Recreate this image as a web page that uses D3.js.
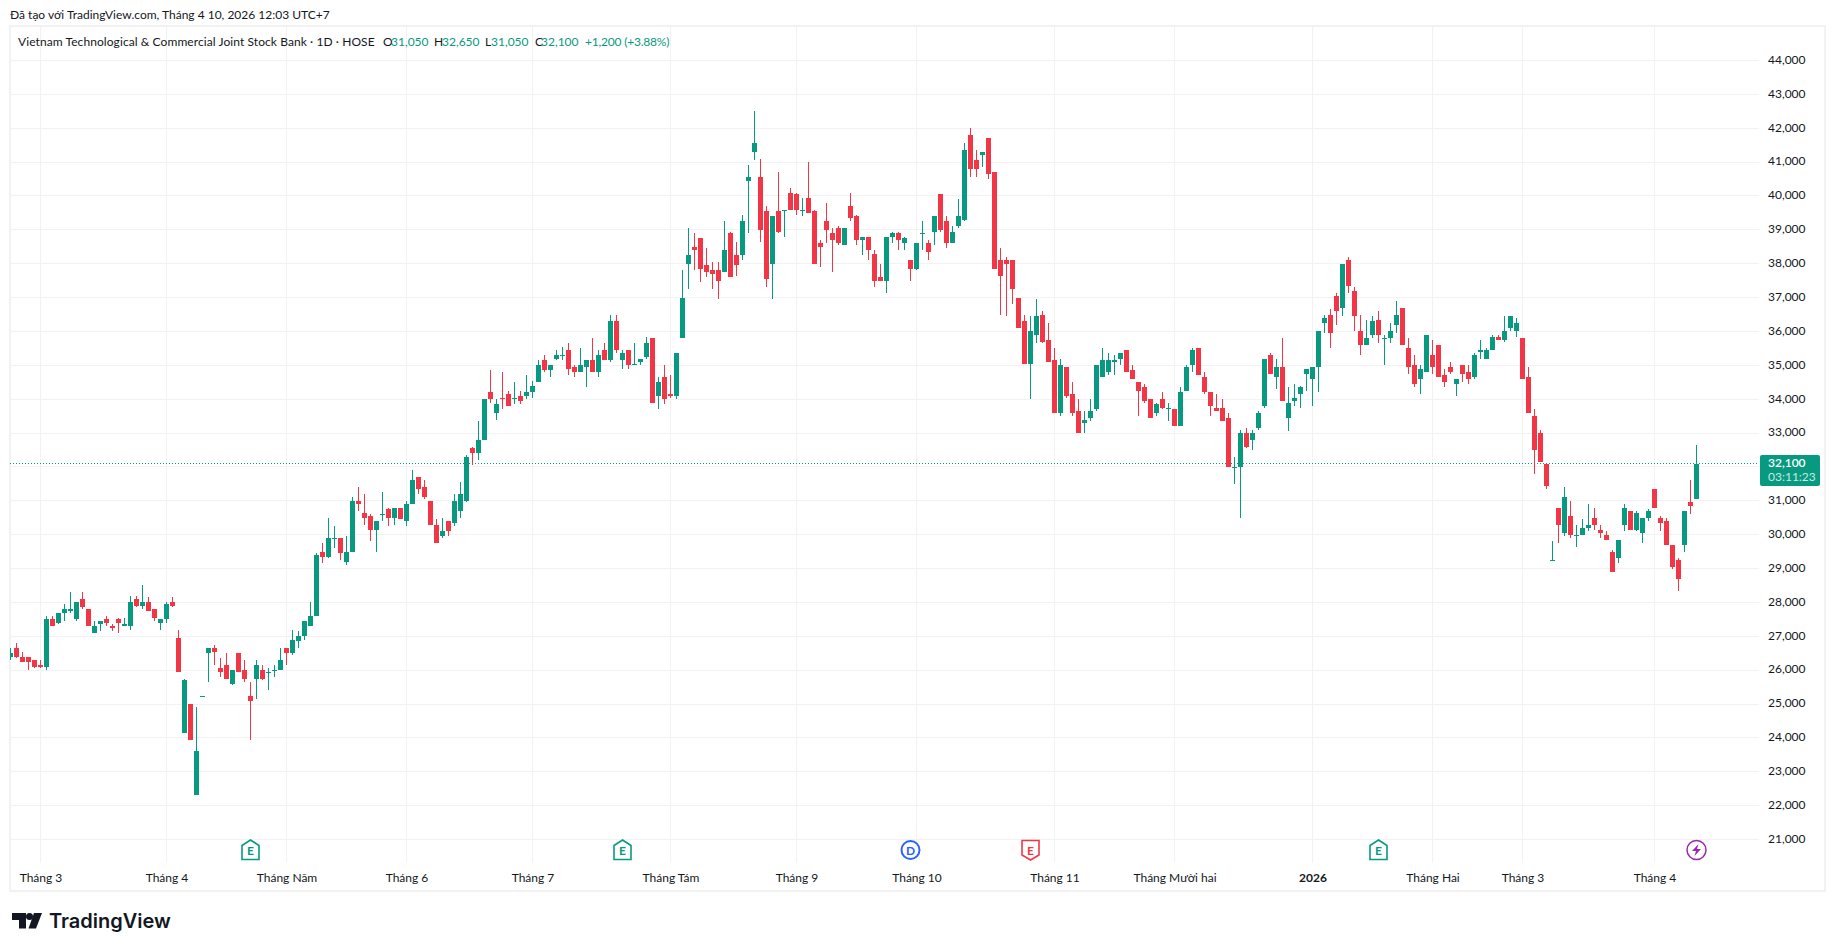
<!DOCTYPE html>
<html>
<head>
<meta charset="utf-8">
<script src="https://cdn.jsdelivr.net/npm/d3@7"></script>
<style>
  html, body { margin: 0; padding: 0; background: #fff; overflow: hidden; }
  svg { display: block; }
  text { font-family: Lato, "Noto Sans", sans-serif; font-size: 12px; fill: #131722; }
</style>
</head>
<body>
<svg id="svg" width="1835" height="951"></svg>
<script>
// daily prices, one value per bar
var opens = [
  26400,26650,26400,26400,26300,26150,26100,27500,27400,27700,
  27750,27500,28100,27800,27100,27350,27500,27300,27500,27300,
  27300,28100,27900,28000,27800,27400,27500,28000,26950,24150,
  25000,22300,25250,26500,26650,26050,26150,25600,26500,26000,
  25250,25750,26000,25950,26000,26000,26650,26500,26850,27000,
  27300,27600,29500,29350,29900,29900,29200,29500,31000,30650,
  30550,30150,30600,30750,30500,30800,30400,30900,31700,31400,
  31000,30300,29950,30400,30350,30700,31000,32550,32400,32800,
  34200,33600,34050,34150,34000,34100,34100,34200,34500,35150,
  34850,35200,35300,35450,34950,34800,34950,35150,34800,35450,
  35150,36300,35150,35450,35050,35100,35250,35800,34100,34650,
  34150,34100,35800,38000,38500,38750,37950,37800,37800,37750,
  38900,38250,38250,40450,41300,40550,39550,38000,39550,39600,
  40100,40050,39600,39950,39550,38600,39250,38900,39050,38550,
  39700,39400,38700,38800,38300,37600,37500,38800,38900,38600,
  38100,37850,38900,38600,38950,40050,39250,38600,39100,39300,
  41800,41050,41200,41700,40700,38100,38100,38100,37000,36300,
  35050,35900,36500,35750,35150,33600,34950,34150,33650,33300,
  33450,33700,34650,34800,35100,35200,35450,34850,34500,34350,
  34000,33600,34000,33750,33700,33200,34250,35000,35500,34650,
  34200,33750,33750,33450,32000,32000,33000,32800,33150,33800,
  35300,34650,34950,33450,33950,34150,34750,34600,34950,36250,
  36500,37050,36700,38100,37200,36000,35600,35900,36350,35800,
  35800,36200,36700,35500,35000,34600,34800,35300,35600,34700,
  34950,34450,35000,34800,34650,35400,35200,35450,35850,35750,
  36100,36000,35800,34650,33500,33000,32100,29250,30800,30050,
  30550,30000,30000,30200,30500,30150,30000,29500,29300,30300,
  30700,30150,30050,30500,31350,30500,30400,29700,29250,29700,
  30950,31050
];
var highs = [
  26650,26800,26550,26400,26300,26300,27600,27600,27700,27950,
  28300,28000,28300,27800,27450,27450,27600,27350,27550,27550,
  28200,28200,28500,28150,27800,27500,28000,28150,27200,25750,
  25000,24900,25250,26650,26750,26350,26500,26000,26500,26300,
  25650,26300,26150,26050,26150,26650,26650,27200,27150,27450,
  28000,29450,29750,30500,30250,29900,29950,31100,31400,31200,
  30600,30400,31250,30800,30800,30800,31000,31900,31700,31600,
  31000,30450,30500,30400,31200,31550,32350,32600,33350,34000,
  34850,34000,34800,34250,34500,34250,34700,34550,35150,35300,
  35000,35450,35550,35650,35000,35500,35150,35800,35450,35650,
  36500,36500,35450,35450,35650,35200,35850,35800,34650,35000,
  34700,35350,37800,39050,38900,38750,38450,38050,38050,39250,
  38950,38650,39450,40900,42500,41100,39700,39400,40700,39600,
  40250,40100,39950,41000,39600,38700,39800,39050,39100,39050,
  40100,39450,38800,38800,38400,38000,38800,38950,38950,38800,
  38100,38600,39250,38700,39400,40050,39400,39100,39900,41550,
  42000,41350,41300,41700,40700,38450,38200,38100,37000,36500,
  36450,36950,36600,36250,35500,35200,34950,34500,34000,33650,
  34000,35000,35500,35350,35300,35350,35450,35000,34500,34450,
  34000,33900,34200,33900,33700,34350,35000,35500,35500,34800,
  34200,34150,34000,33600,32300,33100,33150,33100,33650,35200,
  35350,35200,35800,34350,34450,34400,34900,34950,36000,36500,
  36650,37150,38000,38200,37300,36500,36350,36450,36600,35900,
  36250,36900,36700,35800,35300,35000,35900,35750,35600,34900,
  35100,34600,35000,35000,35350,35750,35500,35900,35900,36450,
  36450,36400,35800,34950,33700,33100,32100,29800,30800,31400,
  31000,30300,30450,30900,30800,30300,30100,29550,29850,30900,
  30700,30700,30500,30750,31350,30550,30500,29700,29300,30700,
  31600,32650
];
var lows = [
  26300,26350,26250,26000,26050,26050,26000,27300,27350,27450,
  27700,27450,27800,27300,27100,27150,27300,27150,27100,27300,
  27200,27850,27800,27750,27450,27200,27400,27850,25950,24150,
  23950,22300,25250,25650,26150,25800,25750,25550,25950,25650,
  23950,25150,25700,25400,25800,26000,26150,26450,26650,26900,
  27300,27600,29150,29300,29600,29250,29100,29500,30700,30300,
  29800,29500,30400,30250,30300,30450,30250,30900,31200,31050,
  30300,29750,29900,29950,30250,30500,30950,32050,32200,32800,
  33900,33400,33700,33800,33850,33850,34000,34050,34500,34800,
  34650,35150,35150,34700,34650,34800,34350,34800,34650,35150,
  35100,35350,34900,34900,35000,35000,35200,33900,33700,33850,
  34050,34000,35800,37250,37800,37450,37600,37250,36950,37750,
  37600,37650,38100,38900,41050,38650,37300,36950,38900,38800,
  39600,39450,39400,39500,38000,37900,38600,37750,38550,38550,
  39250,38550,38250,38100,37300,37500,37150,38600,38400,38400,
  37500,37800,38400,38100,38550,38950,38450,38600,39050,39250,
  40550,40550,40850,40500,37850,36500,36450,36800,36100,35050,
  34000,35650,35650,35100,33600,33500,34050,33500,33000,33000,
  33350,33650,34650,34700,34700,35000,34800,34600,33500,33900,
  33450,33500,33700,33350,33200,33200,34250,34800,34700,34150,
  33500,33650,33350,32000,31500,30500,32550,32500,33100,33750,
  34750,34300,33950,33050,33800,33750,34250,33800,34200,35950,
  35500,36200,36450,37150,36000,35300,35600,35800,35650,35000,
  35650,35950,35600,34750,34350,34150,34800,34750,34650,34350,
  34750,34100,34500,34450,34600,35200,35200,35450,35750,35700,
  36000,35850,34600,33600,31800,32150,31350,29250,29750,29950,
  29900,29650,30000,30100,30150,29900,29850,28900,29150,30100,
  30150,30100,29750,30400,30800,30100,29700,29000,28350,29500,
  30600,31050
];
var closes = [
  26500,26400,26250,26250,26100,26100,27500,27300,27700,27800,
  27800,28000,27850,27300,27300,27450,27400,27250,27400,27350,
  28000,27900,28000,27750,27550,27500,27950,27900,25950,25700,
  23950,23600,25250,26650,26550,25950,25750,26000,25950,25750,
  25100,26150,25750,25950,26000,26300,26500,26900,27000,27450,
  27600,29400,29350,29900,29900,29450,29500,31000,30900,30500,
  30150,30400,30600,30500,30800,30450,30900,31600,31350,31100,
  30300,29750,30100,30100,31000,31200,32300,32400,32800,34000,
  34000,33850,34000,33800,34050,33950,34200,34400,35000,34850,
  35000,35300,35300,34900,34800,35000,35150,34800,35300,35150,
  36300,35450,35350,35000,35050,35200,35650,33900,34500,34000,
  34100,35350,37000,38250,38400,37850,37750,37700,37500,38400,
  37600,37950,39250,40550,41550,39000,37550,39400,38950,39600,
  39600,39600,39600,39500,38000,38500,39000,38700,38600,39050,
  39350,38700,38800,38400,37500,37500,38800,38900,38700,38750,
  37850,38600,38900,38350,39400,39000,38600,38950,39400,41350,
  40800,40800,41300,40650,37850,37650,38000,37250,36100,35050,
  36000,36450,35700,35100,33600,35000,34100,33600,33000,33400,
  33650,35000,35150,35150,35150,35350,34800,34600,34250,33950,
  33450,33850,33750,33750,33200,34200,34950,35450,34700,34200,
  33800,33650,33350,32000,32000,33000,32600,33000,33600,35200,
  34750,34950,33950,33900,34050,34350,34900,34950,36000,36400,
  35950,36600,38000,37350,36450,35600,35800,36300,35900,35800,
  36000,36500,35600,34950,34450,34900,35900,34950,34650,34500,
  34800,34600,34750,34600,35300,35450,35450,35850,35750,36000,
  36450,36250,34600,33600,32500,32150,31450,29250,30300,31100,
  30000,30000,30200,30300,30300,30050,29850,28900,29850,30800,
  30150,30650,30500,30700,30800,30350,29700,29050,28700,30700,
  30850,32100
];

// bar number of each month start and its label
var monthBars = [5, 26, 46, 66, 87, 110, 131, 151, 174, 194, 217, 237, 252, 274];
var monthLabels = ['Tháng 3', 'Tháng 4', 'Tháng Năm', 'Tháng 6', 'Tháng 7', 'Tháng Tám', 'Tháng 9',
  'Tháng 10', 'Tháng 11', 'Tháng Mười hai', '2026', 'Tháng Hai', 'Tháng 3', 'Tháng 4'];
var priceTicks = d3.range(21000, 45000, 1000);

// events under the candles: bar number and kind
var eventBars = [40, 102, 150, 170, 228, 281];
var eventKinds = ['earningsUp', 'earningsUp', 'dividend', 'earningsDown', 'earningsUp', 'news'];

var lastClose = closes[closes.length - 1];

var green = '#089981';
var red = '#f23645';
var gridColor = '#f2f2f2';

var xScale = d3.scaleLinear().domain([0, opens.length - 1]).range([10.5, 1696.5]);
var yScale = d3.scaleLinear().domain([21000, 44000]).range([839.5, 60.5]);

var svg = d3.select('svg');

svg.append('defs').append('clipPath').attr('id', 'pane')
    .append('rect').attr('x', 10).attr('y', 27).attr('width', 1749).attr('height', 836);

// outer frame
svg.append('rect')
    .attr('x', 10).attr('y', 26)
    .attr('width', 1815).attr('height', 865)
    .attr('fill', 'none')
    .attr('stroke', gridColor)
    .attr('stroke-width', 2)
    .attr('shape-rendering', 'crispEdges');

var pane = svg.append('g').attr('clip-path', 'url(#pane)');

pane.selectAll('.hgrid')
    .data(priceTicks)
    .enter()
    .append('line')
    .attr('class', 'hgrid')
    .attr('x1', 10).attr('x2', 1759)
    .attr('y1', function (d) { return yScale(d); })
    .attr('y2', function (d) { return yScale(d); })
    .attr('stroke', gridColor)
    .attr('shape-rendering', 'crispEdges');

pane.selectAll('.vgrid')
    .data(monthBars)
    .enter()
    .append('line')
    .attr('class', 'vgrid')
    .attr('y1', 27).attr('y2', 863)
    .attr('x1', function (d) { return xScale(d); })
    .attr('x2', function (d) { return xScale(d); })
    .attr('stroke', gridColor)
    .attr('shape-rendering', 'crispEdges');

// last price line
pane.append('line')
    .attr('x1', 10).attr('x2', 1759)
    .attr('y1', yScale(lastClose)).attr('y2', yScale(lastClose))
    .attr('stroke', green)
    .attr('stroke-dasharray', '1 2')
    .attr('shape-rendering', 'crispEdges');

// candles
var candles = pane.selectAll('.candle')
    .data(d3.range(opens.length))
    .enter()
    .append('g')
    .attr('class', 'candle')
    .attr('fill', function (i) { return closes[i] >= opens[i] ? green : red; })
    .attr('shape-rendering', 'crispEdges');

candles.append('rect')
    .attr('x', function (i) { return xScale(i) - 0.5; })
    .attr('width', 1)
    .attr('y', function (i) { return Math.round(yScale(highs[i])); })
    .attr('height', function (i) { return Math.max(1, Math.round(yScale(lows[i])) - Math.round(yScale(highs[i]))); });

candles.append('rect')
    .attr('x', function (i) { return xScale(i) - 2.5; })
    .attr('width', 5)
    .attr('y', function (i) { return Math.round(yScale(Math.max(opens[i], closes[i]))); })
    .attr('height', function (i) {
      return Math.max(1, Math.round(yScale(Math.min(opens[i], closes[i]))) - Math.round(yScale(Math.max(opens[i], closes[i]))));
    });

// axes, the 32,000 label sits behind the last price tag so it is left out
var priceAxis = d3.axisRight(yScale)
    .tickValues(priceTicks.filter(function (d) { return d !== 32000; }))
    .tickSize(0)
    .tickPadding(0)
    .tickFormat(d3.format(','));

svg.append('g')
    .attr('transform', 'translate(1768,-1)')
    .call(priceAxis)
    .call(function (g) { g.select('.domain').remove(); });

var timeAxis = d3.axisBottom(xScale)
    .tickValues(monthBars)
    .tickSize(0)
    .tickPadding(0)
    .tickFormat(function (d, i) { return monthLabels[i]; });

svg.append('g')
    .attr('transform', 'translate(0,878)')
    .call(timeAxis)
    .call(function (g) { g.select('.domain').remove(); })
    .selectAll('text')
    .attr('y', 0)
    .attr('dy', '0.35em')
    .style('font-weight', function (d, i) { return monthLabels[i] === '2026' ? 700 : 400; });

// reset the font d3 puts on axis groups
svg.selectAll('g').attr('font-family', null).attr('font-size', null);

// last price tag
svg.append('rect')
    .attr('x', 1760).attr('y', 455)
    .attr('width', 60).attr('height', 31)
    .attr('rx', 2)
    .attr('fill', green);

svg.append('text')
    .attr('x', 1768).attr('y', 467)
    .style('fill', '#fff')
    .style('font-weight', 600)
    .text(d3.format(',')(lastClose));

svg.append('text')
    .attr('x', 1768).attr('y', 481)
    .style('fill', '#c8e8e1')
    .text('03:11:23');

// event badges
var badges = svg.selectAll('.badge')
    .data(d3.range(eventBars.length))
    .enter()
    .append('g')
    .attr('class', 'badge')
    .attr('transform', function (k) { return 'translate(' + xScale(eventBars[k]) + ',850)'; });

badges.each(function (k) {
  var g = d3.select(this);
  var kind = eventKinds[k];
  if (kind === 'earningsUp' || kind === 'earningsDown') {
    var color = kind === 'earningsUp' ? green : red;
    var shape = kind === 'earningsUp'
      ? 'M0,-10 L8.5,-4.5 L8.5,9.5 L-8.5,9.5 L-8.5,-4.5 Z'
      : 'M-8.5,-9.5 L8.5,-9.5 L8.5,5 L0,10 L-8.5,5 Z';
    g.append('path').attr('d', shape).attr('fill', '#fff').attr('stroke', color).attr('stroke-width', 1.6);
    g.append('text').attr('y', 4.5).attr('text-anchor', 'middle')
        .style('fill', color).style('font-weight', 700).style('font-size', '12px').text('E');
  } else if (kind === 'dividend') {
    g.append('circle').attr('r', 9).attr('fill', '#fff').attr('stroke', '#2962ff').attr('stroke-width', 2);
    g.append('text').attr('y', 4.5).attr('text-anchor', 'middle')
        .style('fill', '#2962ff').style('font-weight', 700).style('font-size', '12px').text('D');
  } else {
    g.append('circle').attr('r', 9.5).attr('fill', '#fff').attr('stroke', '#9c27b0').attr('stroke-width', 1.5);
    g.append('path').attr('d', 'M2,-6 L-4.5,1 L-0.5,1 L-2,6 L4.5,-1 L0.5,-1 Z').attr('fill', '#9c27b0');
  }
});

// captions
svg.append('text').attr('x', 10).attr('y', 19)
    .text('Đã tạo với TradingView.com, Tháng 4 10, 2026 12:03 UTC+7');

svg.append('text').attr('x', 18).attr('y', 46)
    .style('letter-spacing', '0.08px')
    .text('Vietnam Technological & Commercial Joint Stock Bank · 1D · HOSE');

var legendParts = [
  ['O', 383, '#131722'], ['31,050', 391, green],
  ['H', 434, '#131722'], ['32,650', 442, green],
  ['L', 485, '#131722'], ['31,050', 491, green],
  ['C', 535, '#131722'], ['32,100', 541, green],
  ['+1,200 (+3.88%)', 585, green]
];

svg.selectAll('.legend')
    .data(legendParts)
    .enter()
    .append('text')
    .attr('class', 'legend')
    .attr('y', 46)
    .attr('x', function (d) { return d[1]; })
    .style('fill', function (d) { return d[2]; })
    .style('letter-spacing', function (d) { return d[0].length > 6 ? '-0.2px' : null; })
    .text(function (d) { return d[0]; });

// logo
var logo = svg.append('g').attr('transform', 'translate(12,913)').attr('fill', '#131722');
logo.append('path').attr('d', 'M14,15.5 H7 V7 H0 V0 H14 Z');
logo.append('path').attr('d', 'M24,15.5 H16.5 L22,0 H30 Z');
logo.append('circle').attr('cx', 17.5).attr('cy', 3.5).attr('r', 3.5);

svg.append('text')
    .attr('x', 49).attr('y', 928)
    .style('font-family', 'Inter, sans-serif')
    .style('font-size', '20px')
    .style('font-weight', 600)
    .style('fill', '#131722')
    .text('TradingView');
</script>
</body>
</html>
